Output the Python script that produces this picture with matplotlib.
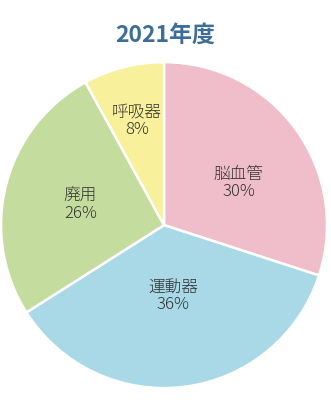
import numpy as np
import matplotlib
matplotlib.use("Agg")
import matplotlib.pyplot as plt

plt.rcParams['font.family'] = ['Noto Sans CJK JP', 'DejaVu Sans']

TITLE = "2021年度"
CATEGORIES = ["脳血管", "運動器", "廃用", "呼吸器"]
SHARES = [30, 36, 26, 8]

COLORS = ["#f0bdca", "#a9d8e6", "#c5dc9f", "#f8f09a"]
TITLE_C, INK = "#3d6e98", "#333333"
LABEL_R = [0.53, 0.43, 0.53, 0.67]
LABEL_DANG = [-6, 0, 0, 0]

fig = plt.figure(figsize=(3.31, 4.10), dpi=100)
ax = fig.add_axes([0.003, 0.051, 0.985, 0.795])
wedges, _ = ax.pie(SHARES, colors=COLORS, startangle=90, counterclock=False,
                   wedgeprops=dict(edgecolor="white", linewidth=1.8))
ax.set_xlim(-1, 1)
ax.set_ylim(-1, 1)
ax.set_aspect("equal")

for w, cat, val, r, da in zip(wedges, CATEGORIES, SHARES, LABEL_R, LABEL_DANG):
    ang = np.deg2rad((w.theta1 + w.theta2) / 2 + da)
    ax.text(r * np.cos(ang), r * np.sin(ang), f"{cat}\n{val}%", ha="center", va="center",
            fontsize=12, color=INK, linespacing=1.05, fontweight="light")

fig.text(0.50, 0.913, TITLE, ha="center", va="center", fontsize=16.5,
         fontweight="bold", color=TITLE_C)

fig.savefig("out.png", dpi=100, facecolor="white")
